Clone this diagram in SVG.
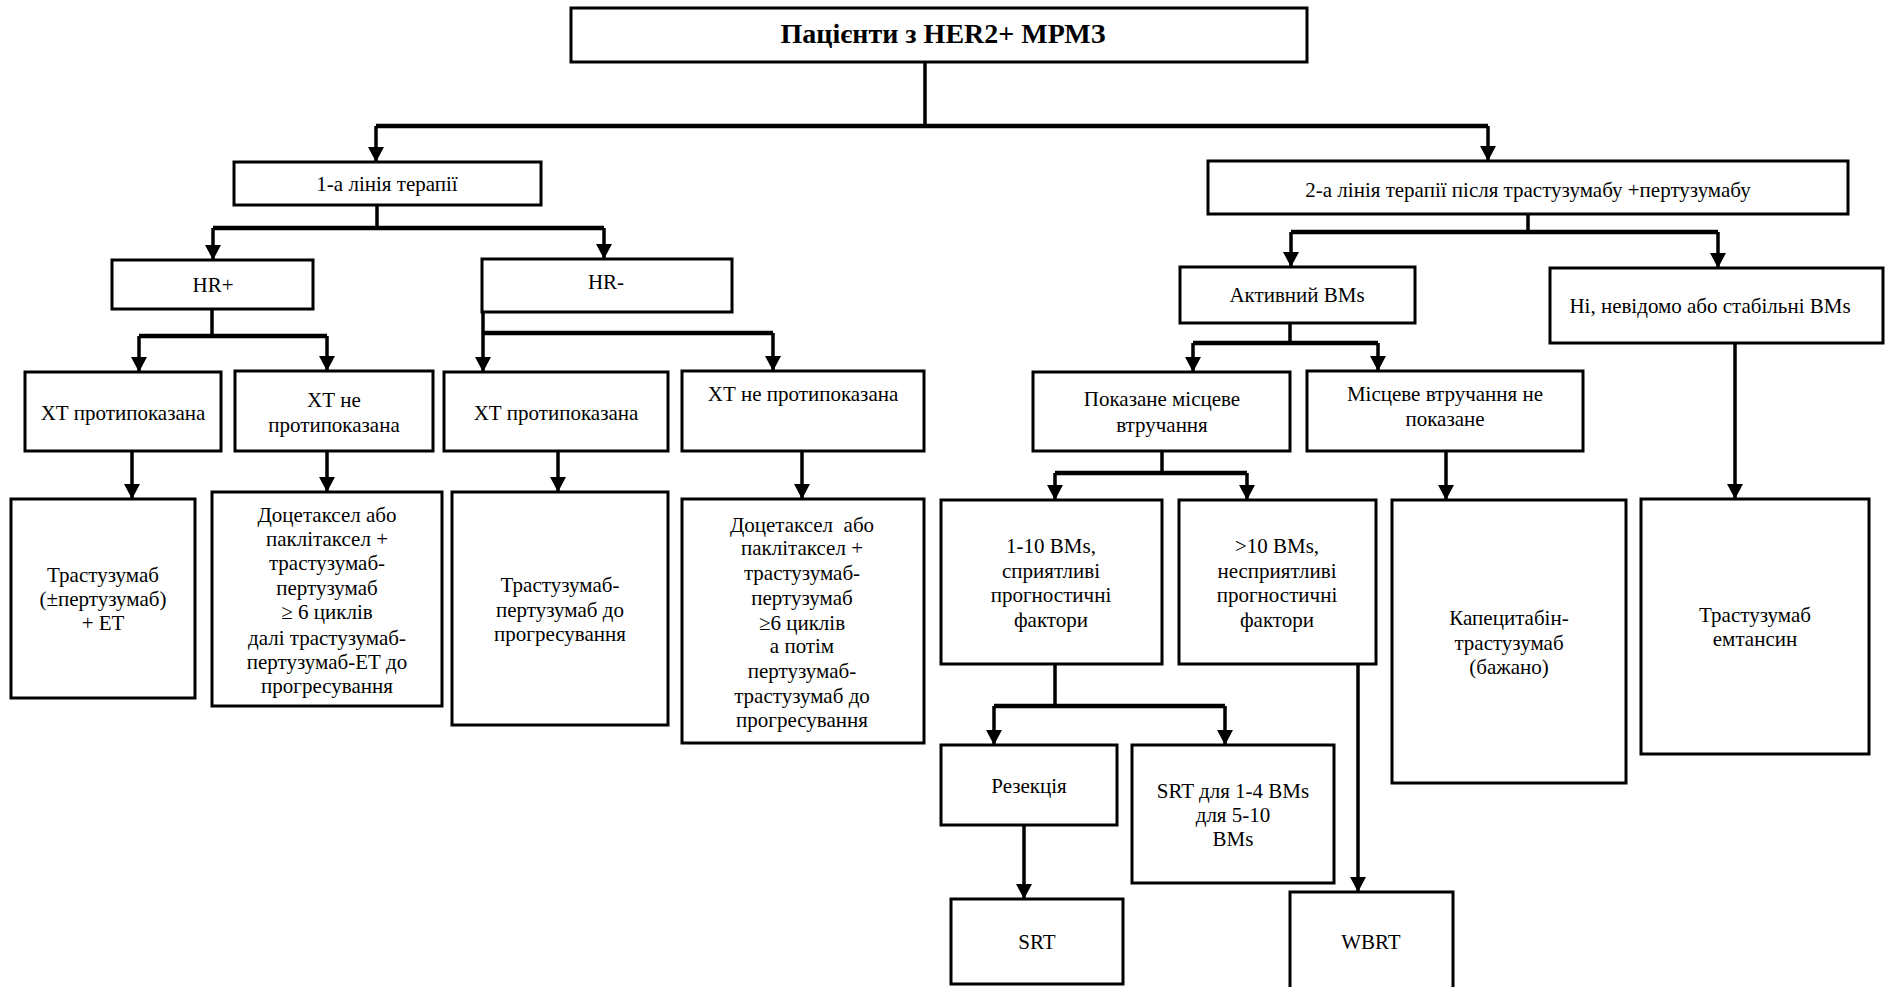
<svg xmlns="http://www.w3.org/2000/svg" width="1889" height="987" viewBox="0 0 1889 987">
<defs>
<marker id="ah" markerUnits="userSpaceOnUse" markerWidth="16" markerHeight="16" viewBox="0 0 16 16" refX="15" refY="8" orient="auto">
<path d="M0,0 L15,8 L0,16 z" fill="#000"/>
</marker>
<style>
.box{fill:#fff;stroke:#000;stroke-width:3}
text{font-family:"Liberation Serif","Times New Roman",serif;font-size:21px;fill:#000;text-anchor:middle}
.title{font-weight:bold;font-size:28px}
.c{fill:none;stroke:#000;stroke-width:3.5}
.h{fill:none;stroke:#000;stroke-width:4.5}
.a{fill:none;stroke:#000;stroke-width:3.5;marker-end:url(#ah)}
</style>
</defs>
<rect width="1889" height="987" fill="#fff"/>
<g id="connectors">
<path class="c" d="M925,62 V126"/>
<path class="h" d="M376,126 H1488"/>
<path class="a" d="M376,126 V162"/>
<path class="a" d="M1488,126 V161"/>
<path class="c" d="M377,205 V228"/>
<path class="h" d="M213,228 H604"/>
<path class="a" d="M213,228 V260"/>
<path class="a" d="M604,228 V259"/>
<path class="c" d="M212,309 V336"/>
<path class="h" d="M139,336 H327"/>
<path class="a" d="M139,336 V372"/>
<path class="a" d="M327,336 V371"/>
<path class="c" d="M483,312 V333"/>
<path class="h" d="M483,333 H773"/>
<path class="a" d="M483,333 V372"/>
<path class="a" d="M773,333 V371"/>
<path class="a" d="M132,451 V499"/>
<path class="a" d="M327,451 V492"/>
<path class="a" d="M558,451 V492"/>
<path class="a" d="M802,451 V499"/>
<path class="c" d="M1528,214 V232"/>
<path class="h" d="M1291,232 H1718"/>
<path class="a" d="M1291,232 V267"/>
<path class="a" d="M1718,232 V268"/>
<path class="c" d="M1290,323 V343"/>
<path class="h" d="M1193,343 H1378"/>
<path class="a" d="M1193,343 V372"/>
<path class="a" d="M1378,343 V371"/>
<path class="a" d="M1735,343 V499"/>
<path class="a" d="M1446,451 V500"/>
<path class="c" d="M1162,451 V473"/>
<path class="h" d="M1055,473 H1247"/>
<path class="a" d="M1055,473 V500"/>
<path class="a" d="M1247,473 V500"/>
<path class="c" d="M1055,664 V706"/>
<path class="h" d="M994,706 H1225"/>
<path class="a" d="M994,706 V745"/>
<path class="a" d="M1225,706 V745"/>
<path class="a" d="M1024,825 V899"/>
<path class="a" d="M1358,664 V892"/>
</g>
<g id="n-root"><rect class="box" x="571" y="8" width="736" height="54"/><text class="title" x="943" y="43">Пацієнти з HER2+ МРМЗ</text></g>
<g id="n-line1"><rect class="box" x="234" y="162" width="307" height="43"/><text x="387" y="191">1-а лінія терапії</text></g>
<g id="n-line2"><rect class="box" x="1208" y="161" width="640" height="53"/><text x="1528" y="197">2-а лінія терапії після трастузумабу +пертузумабу</text></g>
<g id="n-hrp"><rect class="box" x="112" y="260" width="201" height="49"/><text x="213" y="292">HR+</text></g>
<g id="n-hrm"><rect class="box" x="482" y="259" width="250" height="53"/><text x="606" y="289">HR-</text></g>
<g id="n-xt1"><rect class="box" x="25" y="372" width="196" height="79"/><text x="123" y="420">ХТ протипоказана</text></g>
<g id="n-xt2"><rect class="box" x="235" y="371" width="198" height="80"/><text x="334" y="407">ХТ не</text><text x="334" y="432">протипоказана</text></g>
<g id="n-xt3"><rect class="box" x="444" y="372" width="224" height="79"/><text x="556" y="420">ХТ протипоказана</text></g>
<g id="n-xt4"><rect class="box" x="682" y="371" width="242" height="80"/><text x="803" y="401">ХТ не протипоказана</text></g>
<g id="n-t1"><rect class="box" x="11" y="499" width="184" height="199"/><text x="103" y="582">Трастузумаб</text><text x="103" y="606">(±пертузумаб)</text><text x="103" y="630">+ ЕТ</text></g>
<g id="n-t2"><rect class="box" x="212" y="492" width="230" height="214"/>
<text x="327" y="522">Доцетаксел або</text><text x="327" y="546">паклітаксел +</text><text x="327" y="570">трастузумаб-</text><text x="327" y="595">пертузумаб</text><text x="327" y="619">≥ 6 циклів</text><text x="327" y="645">далі трастузумаб-</text><text x="327" y="669">пертузумаб-ЕТ до</text><text x="327" y="693">прогресування</text></g>
<g id="n-t4"><rect class="box" x="682" y="499" width="242" height="244"/>
<text x="802" y="532" xml:space="preserve">Доцетаксел  або</text><text x="802" y="555">паклітаксел +</text><text x="802" y="580">трастузумаб-</text><text x="802" y="605">пертузумаб</text><text x="802" y="630">≥6 циклів</text><text x="802" y="653">а потім</text><text x="802" y="678">пертузумаб-</text><text x="802" y="703">трастузумаб до</text><text x="802" y="727">прогресування</text></g>
<g id="n-t3"><rect class="box" x="452" y="492" width="216" height="233"/><text x="560" y="592">Трастузумаб-</text><text x="560" y="617">пертузумаб до</text><text x="560" y="641">прогресування</text></g>
<g id="n-active"><rect class="box" x="1180" y="267" width="235" height="56"/><text x="1297" y="302">Активний BMs</text></g>
<g id="n-stable"><rect class="box" x="1550" y="268" width="333" height="75"/><text x="1710" y="313">Ні, невідомо або стабільні BMs</text></g>
<g id="n-local"><rect class="box" x="1033" y="372" width="257" height="79"/><text x="1162" y="406">Показане місцеве</text><text x="1162" y="432">втручання</text></g>
<g id="n-nolocal"><rect class="box" x="1307" y="371" width="276" height="80"/><text x="1445" y="401">Місцеве втручання не</text><text x="1445" y="426">показане</text></g>
<g id="n-fav"><rect class="box" x="941" y="500" width="221" height="164"/><text x="1051" y="553">1-10 BMs,</text><text x="1051" y="578">сприятливі</text><text x="1051" y="602">прогностичні</text><text x="1051" y="627">фактори</text></g>
<g id="n-unfav"><rect class="box" x="1179" y="500" width="197" height="164"/><text x="1277" y="553">&gt;10 BMs,</text><text x="1277" y="578">несприятливі</text><text x="1277" y="602">прогностичні</text><text x="1277" y="627">фактори</text></g>
<g id="n-cape"><rect class="box" x="1392" y="500" width="234" height="283"/><text x="1509" y="625">Капецитабін-</text><text x="1509" y="650">трастузумаб</text><text x="1509" y="674">(бажано)</text></g>
<g id="n-tdm1"><rect class="box" x="1641" y="499" width="228" height="255"/><text x="1755" y="622">Трастузумаб</text><text x="1755" y="646">емтансин</text></g>
<g id="n-resect"><rect class="box" x="941" y="745" width="176" height="80"/><text x="1029" y="793">Резекція</text></g>
<g id="n-srt14"><rect class="box" x="1132" y="745" width="202" height="138"/><text x="1233" y="798">SRT для 1-4 BMs</text><text x="1233" y="822">для 5-10</text><text x="1233" y="846">BMs</text></g>
<g id="n-srt"><rect class="box" x="951" y="899" width="172" height="85"/><text x="1037" y="949">SRT</text></g>
<g id="n-wbrt"><rect class="box" x="1290" y="892" width="163" height="110"/><text x="1371" y="949">WBRT</text></g>
</svg>
